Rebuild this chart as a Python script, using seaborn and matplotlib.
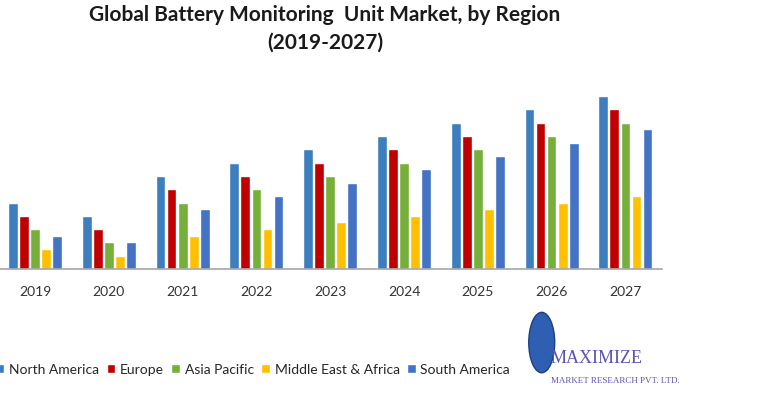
import pandas as pd
import matplotlib.pyplot as plt
import seaborn as sns
from matplotlib.patches import Ellipse

# data (arbitrary units, no y scale shown)
years = ["2019", "2020", "2021", "2022", "2023", "2024", "2025", "2026", "2027"]
regions = ["North America", "Europe", "Asia Pacific", "Middle East & Africa", "South America"]
north_america = [5, 4, 7, 8, 9, 10, 11, 12, 13]
europe = [4, 3, 6, 7, 8, 9, 10, 11, 12]
asia_pacific = [3, 2, 5, 6, 7, 8, 9, 10, 11]
middle_east_africa = [1.5, 1, 2.5, 3, 3.5, 4, 4.5, 5, 5.5]
south_america = [2.5, 2, 4.5, 5.5, 6.5, 7.5, 8.5, 9.5, 10.5]
colors = ["#3d7ebf", "#c00000", "#76b03a", "#ffc000", "#4472c4"]

series = [north_america, europe, asia_pacific, middle_east_africa, south_america]
rows = []
for region, vals in zip(regions, series):
    for yr, v in zip(years, vals):
        rows.append({"Year": yr, "Region": region, "Value": v})
df = pd.DataFrame(rows)

sns.set_theme(style="white")
plt.rcParams["font.family"] = ["Lato", "DejaVu Sans"]

fig = plt.figure(figsize=(7.63, 4.03), dpi=100)
ax = fig.add_axes([0.0, 0.3325, 0.868, 0.429])

sns.barplot(data=df, x="Year", y="Value", hue="Region", palette=colors,
            saturation=1, width=0.75, gap=0.12, ax=ax, legend=True)

ax.set_xlim(-0.475, 8.5)
ax.set_ylim(0, 13.0)
ax.set_xlabel("")
ax.set_ylabel("")
ax.set_yticks([])
for side in ["top", "right", "left"]:
    ax.spines[side].set_visible(False)
ax.spines["bottom"].set_color("#a6a6a6")
ax.spines["bottom"].set_linewidth(1.2)
ax.tick_params(axis="x", length=0, pad=12, labelsize=10, labelcolor="#333333")

handles, labels = ax.get_legend_handles_labels()
ax.legend_.remove()
fig.legend(handles, labels, loc="center left", bbox_to_anchor=(-0.022, 0.083),
           ncol=5, frameon=False, fontsize=10, handlelength=0.6, handleheight=0.6,
           handletextpad=0.35, columnspacing=0.55)

fig.text(0.426, 0.962, "Global Battery Monitoring  Unit Market, by Region",
         ha="center", va="center", fontsize=15, fontweight="bold", color="#1a1a1a")
fig.text(0.426, 0.893, "(2019-2027)", ha="center", va="center",
         fontsize=15, fontweight="bold", color="#1a1a1a")

# logo
fig.patches.append(Ellipse((0.71, 0.15), 0.034, 0.15, transform=fig.transFigure,
                           facecolor="#2f5fb3", edgecolor="#1d3f80", zorder=3))
fig.text(0.722, 0.11, "MAXIMIZE", fontsize=13, family="Liberation Serif",
         color="#5a55b0", va="center")
fig.text(0.722, 0.055, "MARKET RESEARCH PVT. LTD.", fontsize=6.5,
         family="Liberation Serif", color="#5a55b0", va="center")

fig.savefig("out.png", dpi=100)
